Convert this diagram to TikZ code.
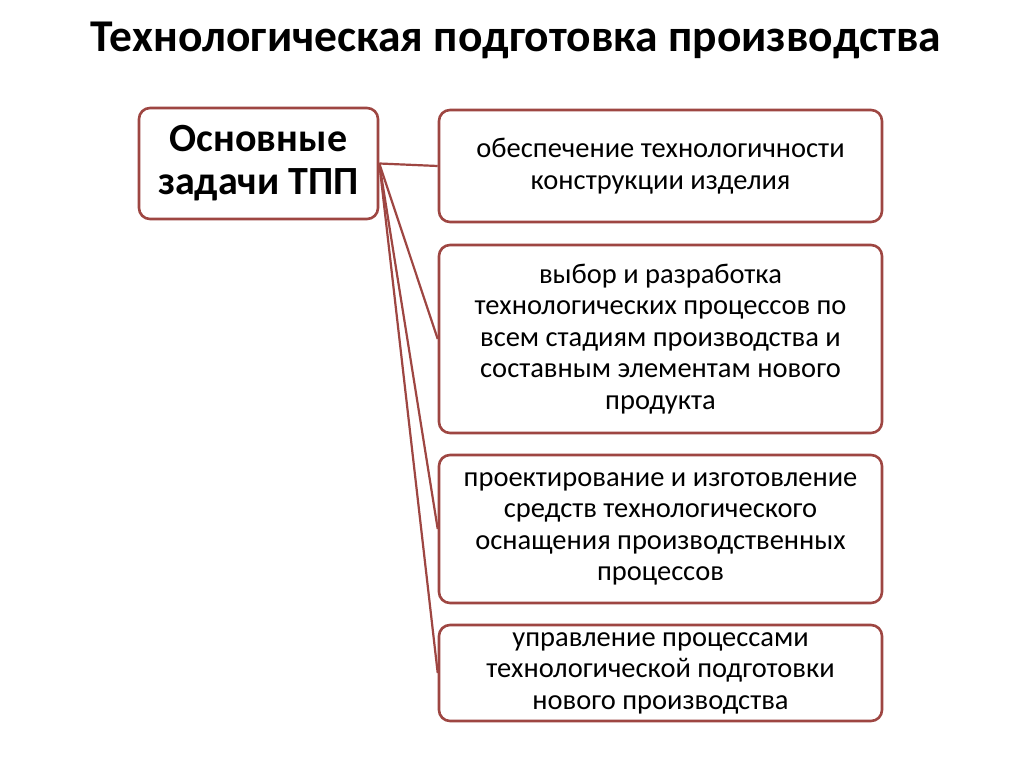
\documentclass[tikz,border=0pt]{standalone}
\usepackage{fontspec}
\setmainfont{Carlito}
\definecolor{boxred}{RGB}{158,70,66}
\begin{document}
\begin{tikzpicture}[x=1pt,y=-1pt,
  box/.style={draw=boxred,line width=2.6pt,rounded corners=11pt,fill=white,align=center,inner sep=0pt},
  body/.style={box,minimum width=443pt,font=\fontsize{28.5}{31.5}\selectfont},
  link/.style={draw=boxred,line width=2.2pt}]
\useasboundingbox[fill=white] (0,0) rectangle (1024,767);
\node[font=\fontsize{45.5}{50}\bfseries\selectfont] (title) at (516,40) {Технологическая подготовка производства};
\node[box,minimum width=239pt,minimum height=111pt,font=\fontsize{40}{43}\bfseries\selectfont] (main) at (258.5,163.5) {Основные\\задачи ТПП};
\node[body,minimum height=112pt] (b1) at (660.5,166) {обеспечение технологичности\\конструкции изделия};
\node[body,minimum height=188pt] (b2) at (660.5,339) {выбор и разработка\\технологических процессов по\\всем стадиям производства и\\составным элементам нового\\продукта};
\node[body,minimum height=148pt] (b3) at (660.5,529) {проектирование и изготовление\\средств технологического\\оснащения производственных\\процессов};
\node[body,minimum height=96pt] (b4) at (660.5,673) {управление процессами\\технологической подготовки\\нового производства};
\foreach \b in {b1,b2,b3,b4} \draw[link] (main.east) -- (\b.west);
\end{tikzpicture}
\end{document}
